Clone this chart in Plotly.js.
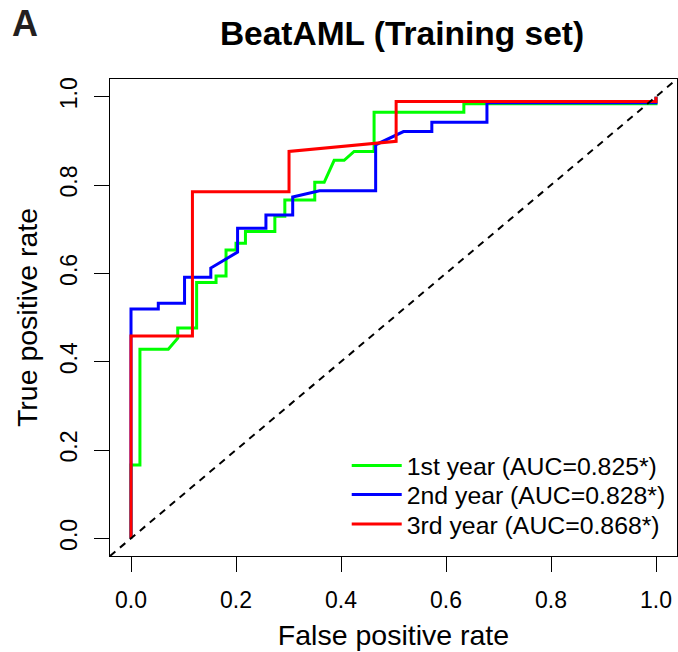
<!DOCTYPE html>
<html>
<head>
<meta charset="utf-8">
<script src="https://cdn.plot.ly/plotly-3.0.1.min.js"></script>
<style>
  html, body { margin: 0; padding: 0; background: #ffffff; }
  #chart { width: 678px; height: 652px; }
</style>
</head>
<body>
<div id="chart"></div>
<script>
// ROC curves for the BeatAML training cohort (1-, 2- and 3-year survival)
const seriesNames = [
  "1st year (AUC=0.825*)",
  "2nd year (AUC=0.828*)",
  "3rd year (AUC=0.868*)"
];
const seriesColors = ["#00ff00", "#0000ff", "#ff0000"];

// False positive rate / true positive rate for each ROC curve
const fpr1 = [0, 0, 0.017, 0.017, 0.071, 0.089, 0.089, 0.125, 0.125, 0.162, 0.162, 0.181, 0.181,
              0.200, 0.200, 0.218, 0.218, 0.274, 0.274, 0.293, 0.293, 0.350, 0.350, 0.368, 0.387,
              0.406, 0.425, 0.463, 0.463, 0.634, 0.634, 1, 1];
const tpr1 = [0, 0.166, 0.166, 0.428, 0.428, 0.453, 0.476, 0.476, 0.579, 0.579, 0.594, 0.594, 0.653,
              0.653, 0.668, 0.668, 0.695, 0.695, 0.729, 0.729, 0.766, 0.766, 0.806, 0.806, 0.856,
              0.856, 0.876, 0.876, 0.965, 0.965, 0.984, 0.984, 1];

const fpr2 = [0, 0, 0.052, 0.052, 0.102, 0.102, 0.152, 0.152, 0.203, 0.203, 0.257, 0.257, 0.308,
              0.308, 0.359, 0.466, 0.466, 0.519, 0.573, 0.573, 0.678, 0.678, 1, 1];
const tpr2 = [0, 0.519, 0.519, 0.532, 0.532, 0.591, 0.591, 0.612, 0.648, 0.702, 0.702, 0.732, 0.732,
              0.773, 0.787, 0.787, 0.891, 0.921, 0.921, 0.942, 0.942, 0.986, 0.986, 1];

const fpr3 = [0, 0, 0.117, 0.117, 0.301, 0.301, 0.505, 0.505, 1, 1];
const tpr3 = [0, 0.458, 0.458, 0.785, 0.785, 0.876, 0.899, 0.989, 0.989, 1];

const tickValues = [0, 0.2, 0.4, 0.6, 0.8, 1.0];
const tickLabels = ["0.0", "0.2", "0.4", "0.6", "0.8", "1.0"];

const FONT = "Liberation Sans, Arial, Helvetica, sans-serif";

// one legend per curve so the rows sit close together like base-R legends
const legendIds = ["legend", "legend2", "legend3"];
const legendTops = [0.2369, 0.1761, 0.1143];

const curves = [[fpr1, tpr1], [fpr2, tpr2], [fpr3, tpr3]];
const traces = curves.map(([x, y], i) => ({
  type: "scatter",
  mode: "lines",
  x: x,
  y: y,
  name: seriesNames[i],
  legend: legendIds[i],
  line: { color: seriesColors[i], width: 3, shape: "linear" },
  hoverinfo: "skip"
}));

const axisCommon = {
  range: [-0.04, 1.04],
  tickmode: "array",
  tickvals: tickValues,
  ticktext: tickLabels,
  ticks: "outside",
  ticklen: 15,
  tickwidth: 1,
  tickcolor: "#000000",
  ticklabelstandoff: 8,
  showline: true,
  mirror: true,
  linecolor: "#000000",
  linewidth: 1,
  showgrid: false,
  zeroline: false,
  fixedrange: true,
  tickfont: { family: FONT, size: 23, color: "#000000" }
};

const layout = {
  width: 678,
  height: 652,
  margin: { l: 110, r: 1, t: 79, b: 96, pad: 0 },
  paper_bgcolor: "#ffffff",
  plot_bgcolor: "#ffffff",
  font: { family: FONT, color: "#000000" },
  title: {
    text: "BeatAML (Training set)",
    font: { family: FONT, size: 33.5, weight: "bold", color: "#000000" },
    xref: "container", x: 402 / 678, xanchor: "center",
    yref: "container", y: 1 - 33 / 652, yanchor: "middle"
  },
  xaxis: Object.assign({}, axisCommon, {
    title: { text: "False positive rate", font: { family: FONT, size: 28.5, color: "#000000" }, standoff: 13 }
  }),
  yaxis: Object.assign({}, axisCommon, {
    tickangle: -90,
    title: { text: "True positive rate", font: { family: FONT, size: 28.5, color: "#000000" }, standoff: 9 }
  }),
  showlegend: true,
  shapes: [{
    // chance diagonal across the whole plotting region
    type: "line", xref: "paper", yref: "paper",
    x0: 0, y0: 0, x1: 1, y1: 1,
    line: { color: "#000000", width: 2, dash: "7px,6px" },
    layer: "above"
  }],
  annotations: [{
    text: "<b>A</b>",
    xref: "paper", yref: "paper",
    x: (24.7 - 110) / 567, y: (556 - 23.7) / 477,
    xanchor: "center", yanchor: "middle",
    showarrow: false,
    font: { family: FONT, size: 36, color: "#231f20" }
  }]
};

legendIds.forEach((id, i) => {
  layout[id] = {
    x: 0.4175, y: legendTops[i], xanchor: "left", yanchor: "top",
    xref: "paper", yref: "paper",
    bgcolor: "rgba(0,0,0,0)",
    borderwidth: 0,
    itemwidth: 50,
    font: { family: FONT, size: 24.8, color: "#000000" }
  };
});

Plotly.newPlot("chart", traces, layout, { staticPlot: true, displayModeBar: false });
</script>
</body>
</html>
